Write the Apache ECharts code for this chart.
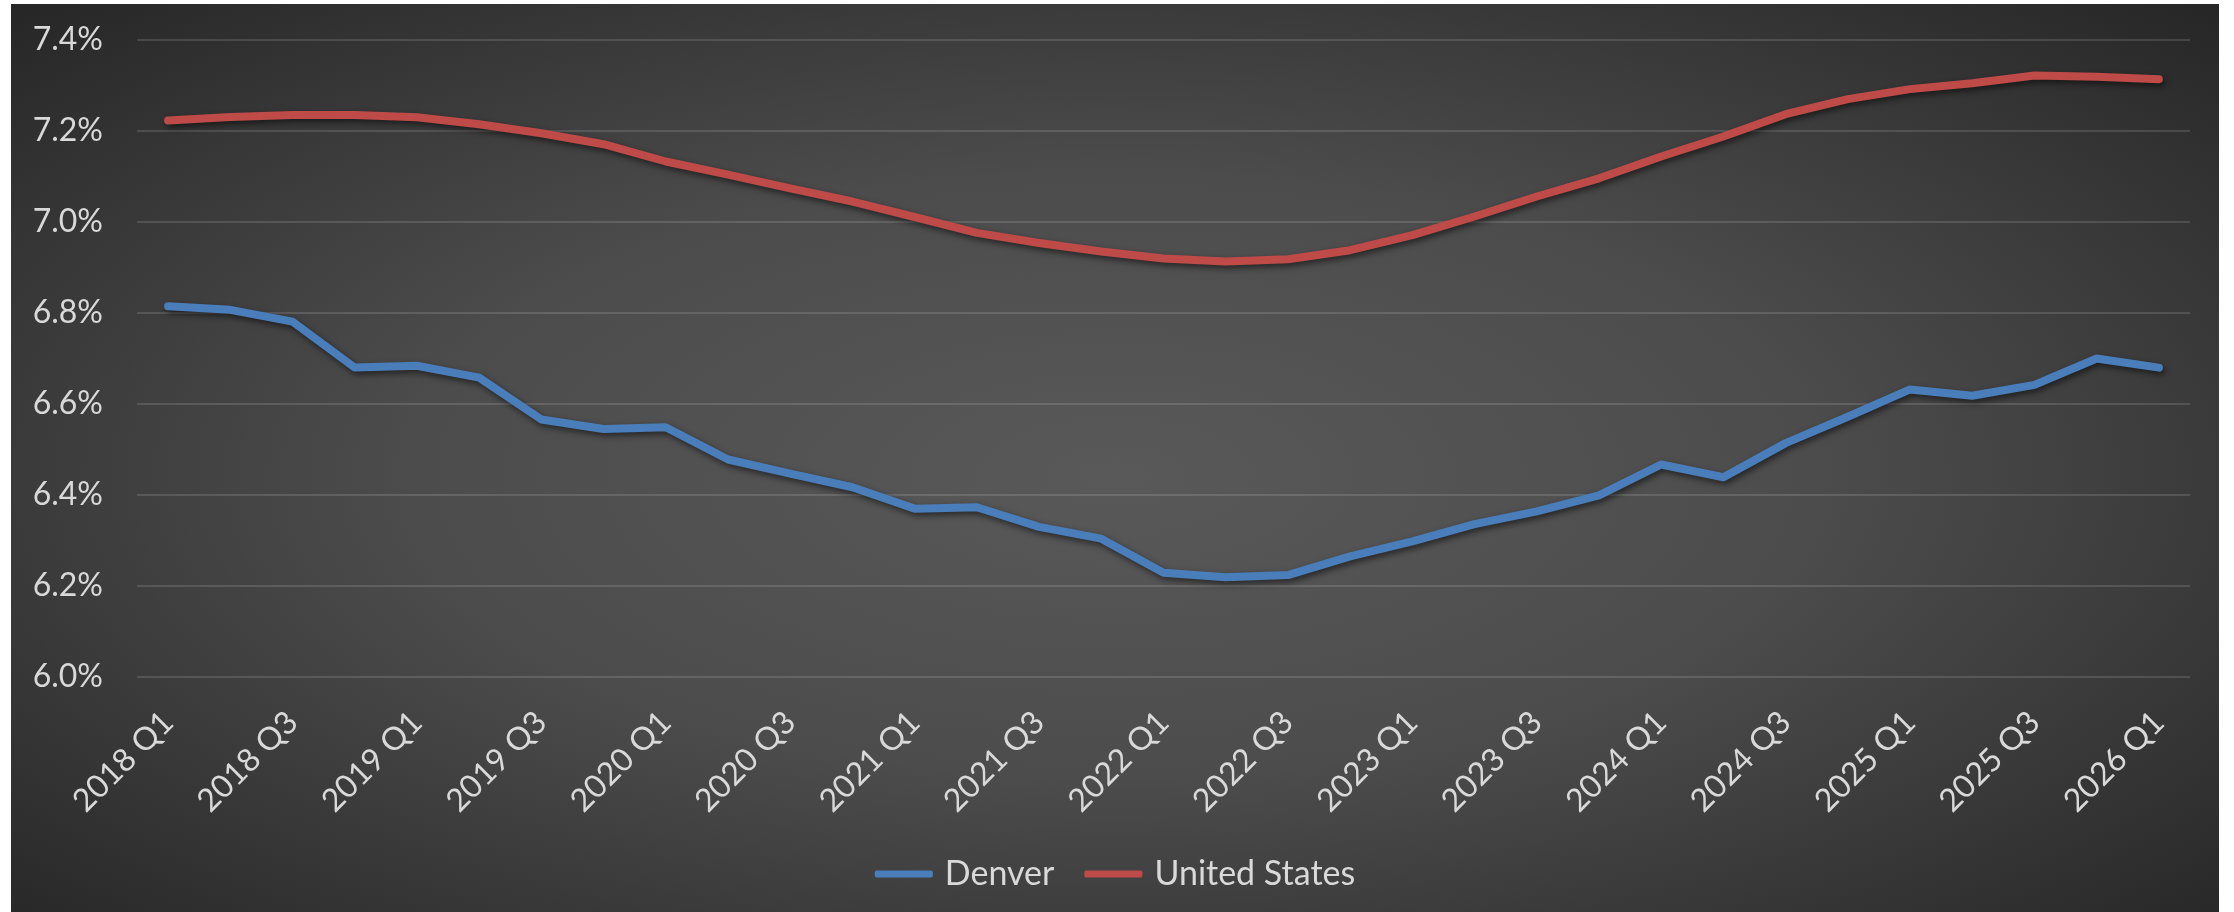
<!DOCTYPE html>
<html>
<head>
<meta charset="utf-8">
<script src="https://cdn.jsdelivr.net/npm/echarts@6/dist/echarts.min.js"></script>
<style>
html,body{margin:0;padding:0;background:#ffffff;width:2234px;height:912px;overflow:hidden;}
#chart{position:absolute;left:11px;top:4px;width:2208px;height:908px;
background:radial-gradient(ellipse farthest-corner at 50% 52%, #595959 0%, #4c4c4c 45%, #262626 100%);}
</style>
</head>
<body>
<div id="chart"></div>
<script>
var categories = ['2018 Q1','2018 Q2','2018 Q3','2018 Q4','2019 Q1','2019 Q2','2019 Q3','2019 Q4',
'2020 Q1','2020 Q2','2020 Q3','2020 Q4','2021 Q1','2021 Q2','2021 Q3','2021 Q4',
'2022 Q1','2022 Q2','2022 Q3','2022 Q4','2023 Q1','2023 Q2','2023 Q3','2023 Q4',
'2024 Q1','2024 Q2','2024 Q3','2024 Q4','2025 Q1','2025 Q2','2025 Q3','2025 Q4','2026 Q1'];

var denver = [6.815,6.807,6.781,6.680,6.684,6.658,6.566,6.545,6.549,6.478,6.447,6.417,6.370,6.373,6.330,6.304,
6.229,6.219,6.224,6.265,6.298,6.336,6.364,6.399,6.467,6.439,6.514,6.572,6.632,6.618,6.642,6.700,6.680];

var unitedStates = [7.223,7.231,7.235,7.235,7.230,7.215,7.195,7.171,7.133,7.104,7.074,7.045,7.011,6.976,6.954,6.935,
6.920,6.913,6.918,6.938,6.971,7.012,7.056,7.096,7.144,7.188,7.237,7.270,7.292,7.305,7.322,7.319,7.314];

var yTicks = [6.0,6.2,6.4,6.6,6.8,7.0,7.2,7.4];

var labelColor = '#d9d9d9';
var fontFam = 'Lato, "Open Sans", sans-serif';

var chart = echarts.init(document.getElementById('chart'), null, {renderer:'canvas'});
chart.setOption({
  backgroundColor: 'transparent',
  animation: false,
  grid: {left:126, right:29, top:36, bottom:235, containLabel:false},
  legend: {
    bottom: 16, left: 'center',
    icon: 'roundRect', itemWidth: 58, itemHeight: 7, itemGap: 30,
    textStyle: {color: labelColor, fontSize: 34, fontFamily: fontFam, padding: [0, 0, 0, 7]},
    data: ['Denver','United States']
  },
  xAxis: {
    type: 'category', data: categories, boundaryGap: true,
    axisLine: {show:false}, axisTick: {show:false},
    axisLabel: {interval: 1, rotate: 45, margin: 40, color: labelColor, fontSize: 32, fontFamily: fontFam}
  },
  yAxis: {
    type: 'value', min: yTicks[0], max: yTicks[yTicks.length-1], interval: 0.2,
    axisLine: {show:false}, axisTick: {show:false},
    splitLine: {lineStyle: {color: 'rgba(255,255,255,0.13)', width: 2}},
    axisLabel: {margin: 34, color: labelColor, fontSize: 32, fontFamily: fontFam,
      formatter: function(v){ return v.toFixed(1) + '%'; }}
  },
  series: [
    {name:'Denver', type:'line', data: denver, symbol:'none', smooth:false,
     itemStyle:{color:'#4a7ebb'},
     lineStyle:{color:'#4a7ebb', width:8, cap:'round', join:'round',
       shadowColor:'rgba(0,0,0,0.55)', shadowBlur:6, shadowOffsetX:2, shadowOffsetY:3}},
    {name:'United States', type:'line', data: unitedStates, symbol:'none', smooth:false,
     itemStyle:{color:'#be4b48'},
     lineStyle:{color:'#be4b48', width:8, cap:'round', join:'round',
       shadowColor:'rgba(0,0,0,0.55)', shadowBlur:6, shadowOffsetX:2, shadowOffsetY:3}}
  ]
});
</script>
</body>
</html>
